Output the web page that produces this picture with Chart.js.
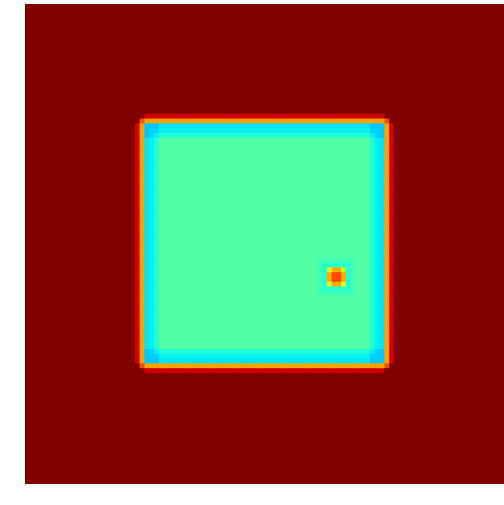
<!DOCTYPE html>
<html>
<head>
<meta charset="utf-8">
<script src="https://cdn.jsdelivr.net/npm/chart.js@4.4.0/dist/chart.umd.min.js"></script>
<style>
html, body { margin: 0; padding: 0; overflow: hidden; background: #fff; }
#wrap { width: 505px; height: 505px; }
</style>
</head>
<body>
<div id="wrap"><canvas id="heat"></canvas></div>
<script>
// Field values (0..1 on the jet scale)
var gridSize = 100;
var outsideValue = 1.0;
var insideValue = 0.45;
var edgeStart = 23, edgeEnd = 76;          // outer ring of the square, rows/cols
var edgeProfile = [0.93, 0.74, 0.35, 0.36, 0.39]; // rings going inward from the edge

// the small spot
var spotRows = [55, 56, 57, 58];
var spotCols = [63, 64, 65, 66];
var spotValues = [
    [0.60, 0.73, 0.73, 0.60],
    [0.73, 0.83, 0.83, 0.73],
    [0.73, 0.83, 0.83, 0.73],
    [0.60, 0.73, 0.73, 0.60]
];
var haloValues = [0.40, 0.43];

// matplotlib "jet"
var jetR = [[0, 0], [0.35, 0], [0.66, 1], [0.89, 1], [1, 0.5]];
var jetG = [[0, 0], [0.125, 0], [0.375, 1], [0.64, 1], [0.91, 0], [1, 0]];
var jetB = [[0, 0.5], [0.11, 1], [0.34, 1], [0.65, 0], [1, 0]];

function seg(pts, v) {
    for (var i = 1; i < pts.length; i++) {
        if (v <= pts[i][0]) {
            var t = (v - pts[i - 1][0]) / (pts[i][0] - pts[i - 1][0]);
            return pts[i - 1][1] + t * (pts[i][1] - pts[i - 1][1]);
        }
    }
    return pts[pts.length - 1][1];
}

function jet(v) {
    v = Math.max(0, Math.min(1, v));
    return "rgb(" + Math.round(seg(jetR, v) * 255) + "," +
        Math.round(seg(jetG, v) * 255) + "," +
        Math.round(seg(jetB, v) * 255) + ")";
}

function profile(i) {
    if (i < edgeStart || i > edgeEnd) return outsideValue;
    if (i - edgeStart < edgeProfile.length) return edgeProfile[i - edgeStart];
    if (edgeEnd - i < edgeProfile.length) return edgeProfile[edgeEnd - i];
    return insideValue;
}

// build the table
var grid = [];
for (var r = 0; r < gridSize; r++) {
    var row = [];
    for (var c = 0; c < gridSize; c++) {
        var pr = profile(r), pc = profile(c), v;
        if (pr > insideValue && pc > insideValue) {
            v = Math.max(pr, pc) + 0.3 * (Math.min(pr, pc) - insideValue);
        } else if (pr > insideValue || pc > insideValue) {
            v = Math.max(pr, pc);
        } else if (pr < insideValue && pc < insideValue) {
            v = Math.min(pr, pc) - 0.03;
        } else {
            v = Math.min(pr, pc);
        }
        row.push(v);
    }
    grid.push(row);
}

// spot and its halo
var r0 = spotRows[0], r1 = spotRows[spotRows.length - 1];
var c0 = spotCols[0], c1 = spotCols[spotCols.length - 1];
for (var r = r0 - haloValues.length; r <= r1 + haloValues.length; r++) {
    for (var c = c0 - haloValues.length; c <= c1 + haloValues.length; c++) {
        var dr = r < r0 ? r0 - r : (r > r1 ? r - r1 : 0);
        var dc = c < c0 ? c0 - c : (c > c1 ? c - c1 : 0);
        var d = Math.max(dr, dc);
        if (d > 0) grid[r][c] = haloValues[d - 1];
    }
}
for (var i = 0; i < spotRows.length; i++) {
    for (var j = 0; j < spotCols.length; j++) {
        grid[spotRows[i]][spotCols[j]] = spotValues[i][j];
    }
}

// one stacked dataset per row, bottom row first
var labels = [];
for (var c = 0; c < gridSize; c++) labels.push(String(c));

var datasets = [];
for (var k = 0; k < gridSize; k++) {
    var rowVals = grid[gridSize - 1 - k];
    var ones = [];
    for (var c = 0; c < gridSize; c++) ones.push(1);
    datasets.push({
        data: ones,
        backgroundColor: rowVals.map(jet),
        borderWidth: 0,
        inflateAmount: 0.6,
        barPercentage: 1,
        categoryPercentage: 1
    });
}

new Chart("heat", {
    type: "bar",
    data: {
        labels: labels,
        datasets: datasets
    },
    options: {
        animation: false,
        responsive: true,
        maintainAspectRatio: false,
        layout: {
            padding: { left: 25, top: 4, right: 0, bottom: 21 }
        },
        plugins: {
            legend: { display: false },
            tooltip: { enabled: false }
        },
        scales: {
            x: { stacked: true, display: false },
            y: { stacked: true, display: false, min: 0, max: gridSize }
        }
    }
});
</script>
</body>
</html>
